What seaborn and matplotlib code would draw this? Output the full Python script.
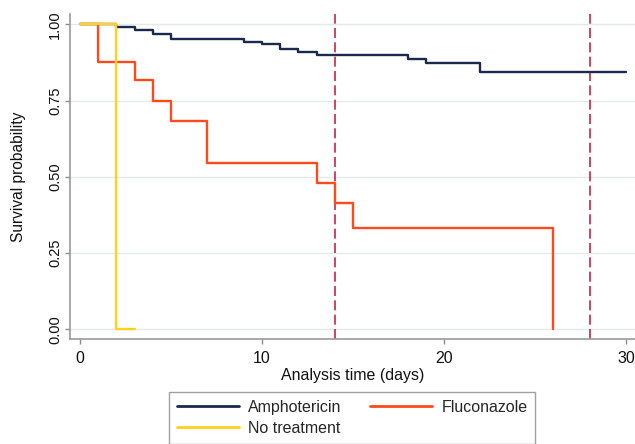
import matplotlib
matplotlib.use("Agg")
import matplotlib.pyplot as plt
import seaborn as sns
import pandas as pd

# ---- data ----
groups = ["Amphotericin", "Fluconazole", "No treatment"]
amph_t = [0, 2, 3, 4, 5, 9, 10, 11, 12, 13, 18, 19, 22, 30]
amph_s = [1.0, 0.991, 0.982, 0.968, 0.951, 0.943, 0.935, 0.919, 0.909, 0.901, 0.887, 0.873, 0.845, 0.845]
fluc_t = [0, 1, 3, 4, 5, 7, 13, 14, 15, 26]
fluc_s = [1.0, 0.875, 0.816, 0.75, 0.682, 0.546, 0.479, 0.413, 0.331, 0.0]
none_t = [0, 2, 3]
none_s = [1.0, 0.0, 0.0]
ref_days = [14, 28]
x_ticks = [0, 10, 20, 30]
y_ticks = [0.0, 0.25, 0.5, 0.75, 1.0]
y_ticklabels = ["0.00", "0.25", "0.50", "0.75", "1.00"]
colors = {"Amphotericin": "#1B2A4C", "Fluconazole": "#FF4A1C", "No treatment": "#FFD21C"}

frames = []
for g, t, s in zip(groups, [amph_t, fluc_t, none_t], [amph_s, fluc_s, none_s]):
    frames.append(pd.DataFrame({"time": t, "surv": s, "group": g}))
df = pd.concat(frames, ignore_index=True)

sns.set_theme(style="white")
plt.rcParams["font.family"] = ["Liberation Sans", "DejaVu Sans"]

fig = plt.figure(figsize=(6.35, 4.44), dpi=100)
ax = fig.add_axes([70 / 635, 1 - 339 / 444, 565 / 635, 325 / 444])

sns.lineplot(data=df, x="time", y="surv", hue="group", hue_order=groups,
             palette=colors, drawstyle="steps-post", estimator=None, sort=False,
             linewidth=1.7, ax=ax, legend=False)

for d in ref_days:
    ax.axvline(d, color="#C8224A", linewidth=1.2, dashes=(6, 2.6), zorder=1)

ax.set_xlim(-0.55, 30.5)
ax.set_ylim(-0.032, 1.034)
ax.set_xticks(x_ticks)
ax.set_xticklabels([str(v) for v in x_ticks], fontsize=11.5)
ax.set_yticks(y_ticks)
ax.set_yticklabels(y_ticklabels, fontsize=10.5, rotation=90, va="center",
                   family=["Liberation Sans Narrow", "Liberation Sans", "DejaVu Sans"])

ax.yaxis.grid(True, color="#E2EAEA", linewidth=1.0)
ax.xaxis.grid(False)
ax.set_axisbelow(True)

for side in ["top", "right"]:
    ax.spines[side].set_visible(False)
for side in ["left", "bottom"]:
    ax.spines[side].set_color("#9A9A9A")
    ax.spines[side].set_linewidth(1.2)

ax.tick_params(axis="both", which="both", direction="out", length=3.8, width=1.0,
               color="#8C8C8C", labelcolor="#111111", pad=2,
               bottom=True, left=True)
ax.tick_params(axis="x", pad=5)

ax.set_xlabel("Analysis time (days)", fontsize=11.5, color="#111111")
ax.set_ylabel("Survival probability", fontsize=11.2, color="#111111")
ax.xaxis.set_label_coords(0.5, -0.090)
ax.yaxis.set_label_coords(-0.078, 0.5)

# legend: row 1 Amphotericin, Fluconazole; row 2 No treatment
from matplotlib.lines import Line2D
order = ["Amphotericin", "No treatment", "Fluconazole"]
handles = [Line2D([], [], color=colors[g], linewidth=2.0) for g in order]
leg = fig.legend(handles, order, ncol=2, loc="upper left",
                 bbox_to_anchor=(169 / 635, 1 - 392 / 444), borderaxespad=0,
                 fontsize=11.5, frameon=True, fancybox=False,
                 handlelength=3.9, handletextpad=0.55, columnspacing=1.8,
                 borderpad=0.5, labelspacing=0.35)
leg.get_frame().set_edgecolor("#8A8A8A")
leg.get_frame().set_linewidth(1.0)

fig.savefig("out.png", dpi=100)
